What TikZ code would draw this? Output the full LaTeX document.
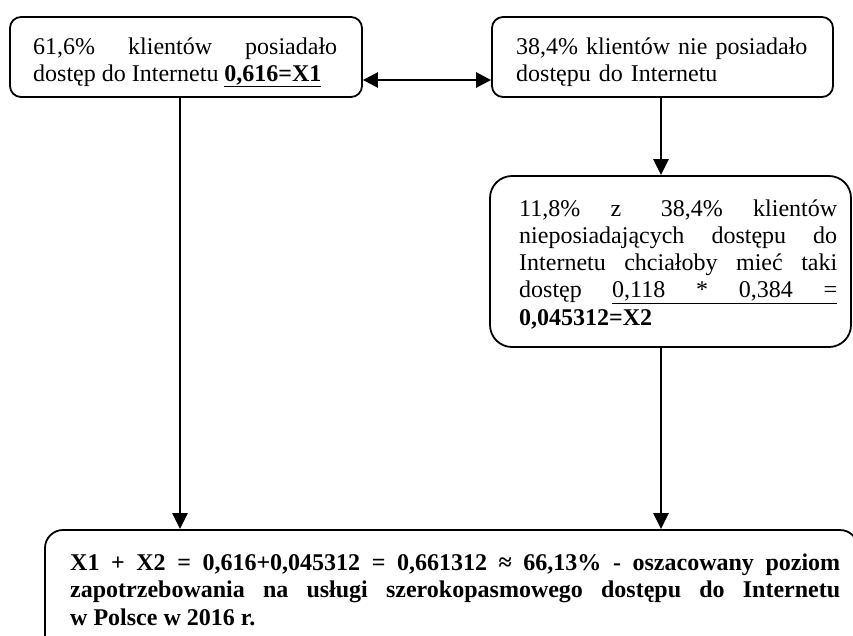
\documentclass[tikz,border=0pt]{standalone}
\usepackage{fontspec}
\setmainfont{Liberation Serif}
\usetikzlibrary{arrows.meta}
\begin{document}
\begin{tikzpicture}[x=1pt,y=-1pt,
  box/.style={draw, line width=1.8pt, inner sep=0pt},
  txt/.style={inner sep=0pt, align=justify, anchor=base west,
    font=\fontsize{24pt}{27.3pt}\selectfont},
  arr/.style={line width=2.5pt, -{Triangle[length=16pt,width=15pt]}},
  dbl/.style={line width=2.5pt, {Triangle[length=15pt,width=15pt]}-{Triangle[length=15pt,width=15pt]}}]
\useasboundingbox[fill=white] (0,0) rectangle (853,635);
% boxes
\node[box, rounded corners=11pt, minimum width=352pt, minimum height=80pt] (A) at (186,57) {};
\node[box, rounded corners=11pt, minimum width=341pt, minimum height=80pt] (B) at (662.5,57) {};
\node[box, rounded corners=22pt, minimum width=361pt, minimum height=171pt] (C) at (670.5,261.5) {};
\node[box, rounded corners=18pt, minimum width=813pt, minimum height=130pt] (D) at (451.5,595) {};
% texts
\node[txt, text width=304pt] (ta) at (33,54)
  {61,6\% klientów posiadało\linebreak dostęp do Internetu \underline{\textbf{0,616=X1}}};
\node[txt, text width=304pt, align=left] (tb) at (516,54)
  {38,4\% klientów nie posiadało\\ dostępu do Internetu};
\node[txt, text width=318pt] (tc) at (519,216)
  {\noindent\hbox to \linewidth{11,8\%\hfill z\hspace{9pt}\hfill 38,4\%\hfill klientów}\par
   \parfillskip=0pt nieposiadających dostępu do\linebreak Internetu chciałoby mieć taki\par
   \noindent\hbox to \linewidth{dostęp\hfill\underline{\makebox[225pt][s]{0,118 * 0,384 =}}}\par
   \parfillskip=0pt plus 1fil\noindent\textbf{0,045312=X2}};
\node[txt, text width=770pt, font=\fontsize{24pt}{27.5pt}\selectfont\bfseries] (td) at (70,570)
  {X1 + X2 = 0,616+0,045312 = 0,661312 ≈ 66,13\% - oszacowany poziom\linebreak zapotrzebowania na usługi szerokopasmowego dostępu do Internetu\linebreak w Polsce w 2016 r.};
% connectors
\draw[dbl] ([yshift=-23pt]A.east) -- ([yshift=-23pt]B.west);
\draw[arr] ([xshift=-6pt]A.south) -- ([xshift=-6pt]A.south |- D.north);
\draw[arr] ([xshift=-1.5pt]B.south) -- ([xshift=-1.5pt]B.south |- C.north);
\draw[arr] ([xshift=-9.5pt]C.south) -- ([xshift=-9.5pt]C.south |- D.north);
\end{tikzpicture}
\end{document}
